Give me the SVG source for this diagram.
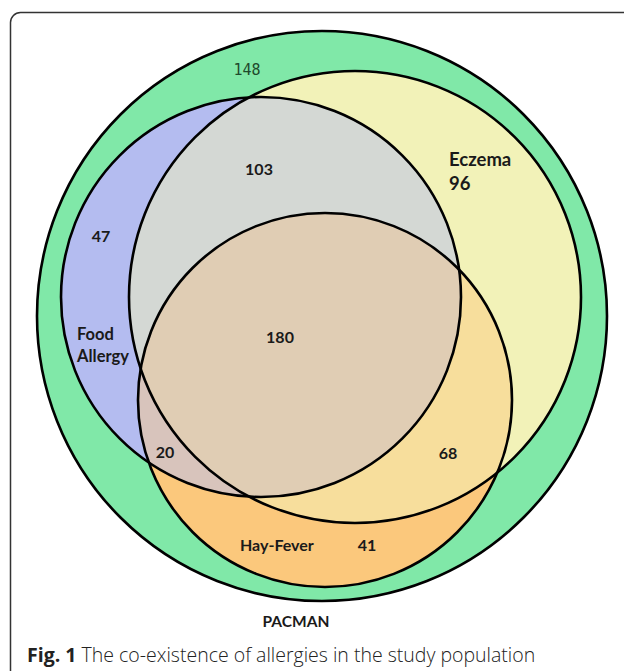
<svg xmlns="http://www.w3.org/2000/svg" width="624" height="671" viewBox="0 0 624 671">
<style>
.lbl{font-family:Lato,"Liberation Sans",sans-serif;font-weight:bold;fill:#1a1a1a;font-size:16px}
.big{font-size:18.5px}
.mid{font-size:16.5px}
.ring{fill:none;stroke:#000;stroke-width:2.6}
</style>
<defs>
<clipPath id="cBlue"><circle cx="261" cy="297" r="200"/></clipPath>
<clipPath id="cEcz"><circle cx="355" cy="297" r="226"/></clipPath>
</defs>
<rect x="10.5" y="12.5" width="660" height="720" rx="10" fill="#fff" stroke="#333" stroke-width="1.5"/>
<g id="pacman"><circle cx="322" cy="316" r="285" fill="#80E8A8"/></g>
<g id="eczema"><circle cx="355" cy="297" r="226" fill="#F2F2B8"/></g>
<g id="food-allergy"><circle cx="261" cy="297" r="200" fill="#B4BCF0"/></g>
<g id="hay-fever"><circle cx="325" cy="400" r="187" fill="#FBC87C"/></g>
<g id="overlaps">
<circle cx="355" cy="297" r="226" fill="#D4D8D4" clip-path="url(#cBlue)"/>
<circle cx="325" cy="400" r="187" fill="#D8C4BC" clip-path="url(#cBlue)"/>
<circle cx="325" cy="400" r="187" fill="#F7DE9C" clip-path="url(#cEcz)"/>
<g clip-path="url(#cBlue)"><circle cx="325" cy="400" r="187" fill="#E0CDB4" clip-path="url(#cEcz)"/></g>
</g>
<g id="outlines">
<circle class="ring" cx="322" cy="316" r="285"/>
<circle class="ring" cx="355" cy="297" r="226"/>
<circle class="ring" cx="261" cy="297" r="200"/>
<circle class="ring" cx="325" cy="400" r="187"/>
</g>
<g id="labels">
<text x="247" y="75" text-anchor="middle" style="font-family:'DejaVu Sans Mono',monospace;font-size:15px;fill:#1f4a2c">148</text>
<text class="lbl" x="259" y="175" text-anchor="middle">103</text>
<text class="lbl big" x="449" y="166">Eczema</text>
<text class="lbl big" x="449" y="190">96</text>
<text class="lbl" x="101" y="242" text-anchor="middle">47</text>
<text class="lbl mid" x="77" y="340">Food</text>
<text class="lbl mid" x="77" y="362">Allergy</text>
<text class="lbl" x="280" y="343" text-anchor="middle">180</text>
<text class="lbl" x="165" y="458" text-anchor="middle">20</text>
<text class="lbl" x="448" y="459" text-anchor="middle">68</text>
<text class="lbl" x="240" y="551">Hay-Fever</text>
<text class="lbl" x="367" y="551" text-anchor="middle">41</text>
<text class="lbl" x="296" y="627" text-anchor="middle" style="font-size:15.5px">PACMAN</text>
</g>
<text x="27" y="662" style="font-family:'Open Sans','Liberation Sans',sans-serif;font-size:19.5px;fill:#222;font-weight:300"><tspan font-weight="bold">Fig. 1</tspan> The co-existence of allergies in the study population</text>
</svg>
